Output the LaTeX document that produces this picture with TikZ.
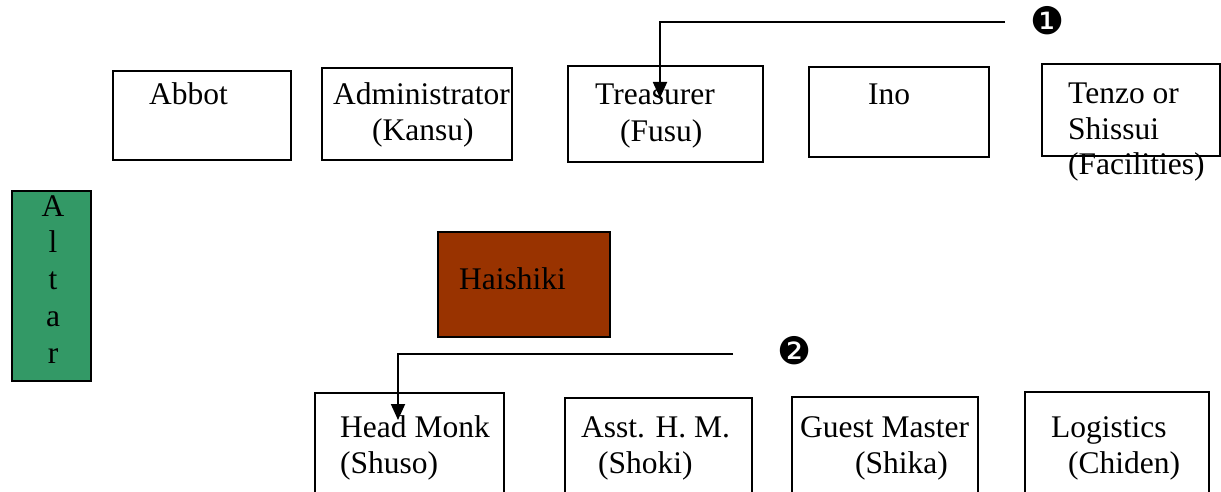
\documentclass[tikz,border=0pt]{standalone}
\usepackage{fontspec}
\setmainfont{Liberation Serif}
\newfontfamily\dingfont{DejaVu Sans}
\usetikzlibrary{arrows.meta}
\definecolor{altargreen}{HTML}{339966}
\definecolor{haibrown}{HTML}{993300}
\begin{document}
\begin{tikzpicture}[x=1pt,y=-1pt,
  box/.style={draw=black,line width=1.6pt,inner sep=0pt,outer sep=0pt,anchor=north west},
  lbl/.style={anchor=base west,inner sep=0pt,font=\fontsize{31.5}{36}\selectfont},
  conn/.style={line width=1.8pt,-{Triangle[length=16pt,width=14pt]}},
  num/.style={inner sep=0pt,font=\dingfont\fontsize{38}{38}\selectfont}]
\useasboundingbox (0,0) rectangle (1221,492);
\clip (0,0) rectangle (1221,492);
% top row boxes
\node[box,minimum width=178pt,minimum height=89pt] (abbot) at (113,71) {};
\node[box,minimum width=190pt,minimum height=92pt] (admin) at (322,68) {};
\node[box,minimum width=195pt,minimum height=96pt] (treas) at (568,66) {};
\node[box,minimum width=180pt,minimum height=90pt] (ino) at (809,67) {};
\node[box,minimum width=178pt,minimum height=92pt] (tenzo) at (1042,64) {};
% middle
\node[box,fill=altargreen,minimum width=79pt,minimum height=190pt] (altar) at (12,191) {};
\node[box,fill=haibrown,minimum width=172pt,minimum height=105pt] (haishiki) at (438,232) {};
% bottom row boxes
\node[box,minimum width=189pt,minimum height=130pt] (shuso) at (315,393) {};
\node[box,minimum width=187pt,minimum height=130pt] (shoki) at (565,398) {};
\node[box,minimum width=186pt,minimum height=130pt] (shika) at (792,397) {};
\node[box,minimum width=184pt,minimum height=130pt] (chiden) at (1025,392) {};
% texts
\node[lbl] (tabbot) at (149,105) {Abbot};
\node[lbl] (tadmin1) at (333,105) {Administrator};
\node[lbl] (tadmin2) at (372,141) {(Kansu)};
\node[lbl] (ttreas1) at (595,105) {Treasurer};
\node[lbl] (ttreas2) at (620,142) {(Fusu)};
\node[lbl] (tino) at (868,105) {Ino};
\node[lbl] (ttenzo1) at (1068,104) {Tenzo or};
\node[lbl] (ttenzo2) at (1068,140) {Shissui};
\node[lbl] (ttenzo3) at (1068,175) {(Facilities)};
\foreach \c/\yy [count=\i] in {A/216,l/252,t/289,a/326,r/363}
  \node[lbl,anchor=base] (taltar\i) at (53,\yy) {\c};
\node[lbl] (thaishiki) at (459,289) {Haishiki};
\node[lbl] (tshuso1) at (340,437) {Head Monk};
\node[lbl] (tshuso2) at (340,473) {(Shuso)};
\node[lbl] (tshoki1) at (581,437) {Asst. H. M.};
\node[lbl] (tshoki2) at (598,473) {(Shoki)};
\node[lbl] (tshika1) at (800,437) {Guest Master};
\node[lbl] (tshika2) at (855,473) {(Shika)};
\node[lbl] (tchiden1) at (1051,437) {Logistics};
\node[lbl] (tchiden2) at (1068,473) {(Chiden)};
% connectors
\coordinate (s1) at (1005,22);
\coordinate (e1) at (660,98);
\draw[conn] (s1) -| (e1);
\node[num] (n1) at (1048,21) {❶};
\coordinate (s2) at (733,354);
\coordinate (e2) at (398,420);
\draw[conn] (s2) -| (e2);
\node[num] (n2) at (795,351) {❷};
\end{tikzpicture}
\end{document}
